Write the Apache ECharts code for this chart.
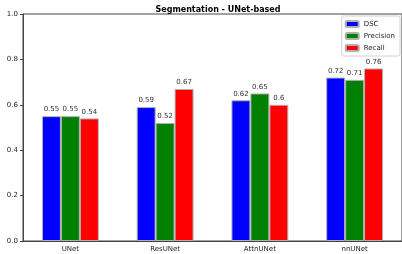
<!DOCTYPE html>
<html>
<head>
<meta charset="utf-8">
<script src="https://cdn.jsdelivr.net/npm/echarts@6/dist/echarts.min.js"></script>
<style>
    html, body { margin: 0; padding: 0; background: #fff; }
    #chart { width: 402px; height: 254px; }
</style>
</head>
<body>
<div id="chart"></div>
<script>
var models = ['UNet', 'ResUNet', 'AttnUNet', 'nnUNet'];
var dsc = [0.55, 0.59, 0.62, 0.72];
var precision = [0.55, 0.52, 0.65, 0.71];
var recall = [0.54, 0.67, 0.6, 0.76];
var yTicks = [0, 0.2, 0.4, 0.6, 0.8, 1.0];

var font = 'DejaVu Sans';
var myChart = echarts.init(document.getElementById('chart'));

// 柱子的公共样式
var makeSeries = function (name, color, data) {
    return {
        name: name,
        type: 'bar',
        data: data,
        barGap: '0%',
        barCategoryGap: '40%',
        animation: false,
        itemStyle: {
            color: color,
            borderColor: '#b0b0b0',
            borderWidth: 1
        },
        label: {
            show: true,
            position: 'top',
            distance: 3,
            fontFamily: font,
            fontSize: 7,
            color: '#333',
            formatter: function (p) { return String(p.value); }
        }
    };
};

var option = {
    title: {
        text: 'Segmentation - UNet-based',
        left: 213,
        textAlign: 'center',
        top: 1,
        textStyle: { fontFamily: font, fontSize: 8, fontWeight: 'bold', color: '#000' }
    },
    legend: {
        orient: 'vertical',
        right: 2,
        top: 16,
        itemWidth: 13,
        itemHeight: 6,
        itemGap: 4,
        padding: [4, 5, 4, 3],
        backgroundColor: '#fff',
        borderColor: '#d0d0d0',
        borderWidth: 1,
        borderRadius: 2,
        textStyle: { fontFamily: font, fontSize: 7, color: '#222' },
        data: ['DSC', 'Precision', 'Recall']
    },
    grid: {
        left: 23,
        top: 14,
        width: 383,
        bottom: 13,
        show: true,
        borderColor: '#444',
        borderWidth: 1,
        containLabel: false
    },
    xAxis: {
        type: 'category',
        data: models,
        axisLine: { lineStyle: { color: '#444' } },
        axisTick: { alignWithLabel: true, length: 3, lineStyle: { color: '#444' } },
        axisLabel: { fontFamily: font, fontSize: 7, color: '#222', margin: 5 }
    },
    yAxis: {
        type: 'value',
        min: 0,
        max: 1,
        interval: 0.2,
        splitLine: { show: false },
        axisLine: { show: true, lineStyle: { color: '#444' } },
        axisTick: { show: true, length: 3, lineStyle: { color: '#444' } },
        axisLabel: {
            fontFamily: font, fontSize: 7, color: '#222', margin: 5,
            formatter: function (v) { return v.toFixed(1); }
        }
    },
    series: [
        makeSeries('DSC', '#0000ff', dsc),
        makeSeries('Precision', '#008000', precision),
        makeSeries('Recall', '#ff0000', recall)
    ]
};
myChart.setOption(option);
</script>
</body>
</html>
